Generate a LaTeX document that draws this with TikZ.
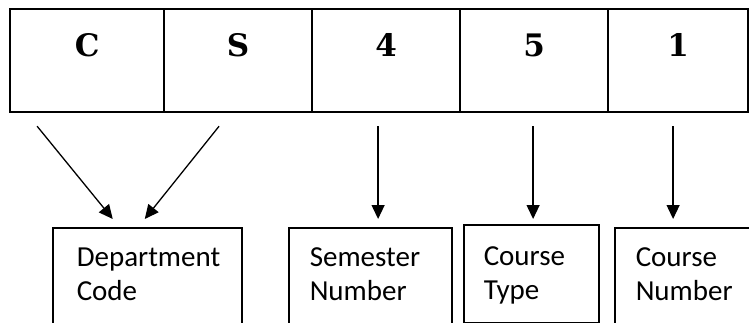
\documentclass[tikz,border=0pt]{standalone}
\usepackage{fontspec}
\newfontfamily\boxfont{Carlito}
\newfontfamily\cellfont{DejaVu Serif}
\usetikzlibrary{calc,arrows.meta}
\tikzstyle{cell}=[shape=rectangle, draw, line width=2.2pt, inner sep=0pt, anchor=north west, minimum height=103pt, text height=47pt, text depth=56pt, font=\cellfont\bfseries\fontsize{31}{36}\selectfont]
\tikzstyle{field}=[shape=rectangle, draw, line width=1.5pt, anchor=north west, inner ysep=0pt, align=left, text height=39pt, text depth=80pt, font=\boxfont\fontsize{29}{34}\selectfont]
\tikzstyle{arr}=[line width=1.3pt, -{Triangle[length=14pt,width=13pt]}]

\begin{document}
\begin{tikzpicture}[x=1pt,y=-1pt]
\useasboundingbox (0,0) rectangle (749,323);
\clip (0,0) rectangle (749,323);

\node (cC) [cell, minimum width=154pt] at (9,8) {C};
\node (cS) [cell, minimum width=148pt] at (163,8) {S};
\node (c4) [cell, minimum width=148pt] at (311,8) {4};
\node (c5) [cell, minimum width=148pt] at (459,8) {5};
\node (c1) [cell, minimum width=140pt] at (607,8) {1};

\node (dept) [field, inner xsep=24pt, text width=141pt] at (52,227) {Department\\Code};
\node (sem) [field, inner xsep=21pt, text width=121pt] at (288,227) {Semester\\Number};
\node (type) [field, inner xsep=20pt, text width=95pt, text height=41pt, text depth=57pt] at (463,224) {Course\\Type};
\node (num) [field, inner xsep=21pt, text width=108pt] at (614,227) {Course\\Number};

\draw[arr] ($(cC.south)+(-50,13)$) -- ($(dept.north)+(-34.5,-8)$);
\draw[arr] ($(cS.south)+(-19,13)$) -- ($(dept.north)+(-2.5,-8)$);
\draw[arr] ($(c4.south)+(-8,13)$) -- ($(c4.south |- sem.north)+(-8,-8)$);
\draw[arr] ($(c5.south)+(-1,13)$) -- ($(c5.south |- type.north)+(-1,-5)$);
\draw[arr] ($(c1.south)+(-5,13)$) -- ($(c1.south |- num.north)+(-5,-8)$);

\end{tikzpicture}
\end{document}
